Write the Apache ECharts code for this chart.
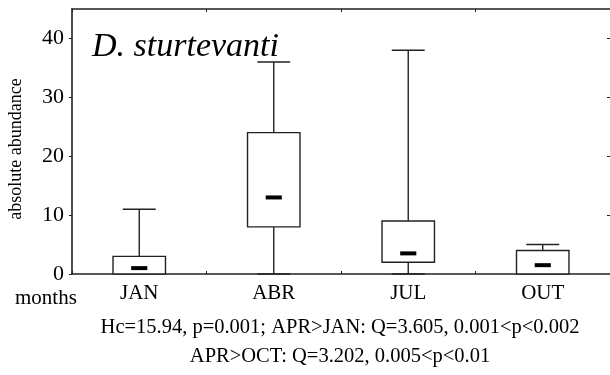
<!DOCTYPE html>
<html>
<head>
<meta charset="utf-8">
<script src="https://cdn.jsdelivr.net/npm/echarts@6/dist/echarts.min.js"></script>
<style>
  html, body { margin: 0; padding: 0; background: #fff; }
  #chart { width: 610px; height: 375px; }
</style>
</head>
<body>
<div id="chart"></div>
<script>
// Monthly abundance of D. sturtevanti: five-number summaries per month
const months = ['JAN', 'ABR', 'JUL', 'OUT'];
const minVals = [0, 0, 0, 0];
const q1Vals = [0, 8, 2, 0];
const medianVals = [1, 13, 3.5, 1.5];
const q3Vals = [3, 24, 9, 4];
const maxVals = [11, 36, 38, 5];
const yTicks = [0, 10, 20, 30, 40];

const SERIF = '"Liberation Serif", "DejaVu Serif", serif';
const INK = '#222';

const boxData = months.map((m, i) => [i, minVals[i], q1Vals[i], medianVals[i], q3Vals[i], maxVals[i]]);

function renderBox(params, api) {
  const idx = api.value(0);
  const band = api.size([1, 0])[0];
  const boxW = band * 0.39;
  const capW = band * 0.245;
  const medW = band * 0.12;
  const pMin = api.coord([idx, api.value(1)]);
  const pQ1 = api.coord([idx, api.value(2)]);
  const pMed = api.coord([idx, api.value(3)]);
  const pQ3 = api.coord([idx, api.value(4)]);
  const pMax = api.coord([idx, api.value(5)]);
  const cx = pQ1[0];
  const lineStyle = { stroke: INK, lineWidth: 1.4, fill: null };
  const children = [];
  // upper whisker and cap
  if (pMax[1] < pQ3[1]) {
    children.push({ type: 'line', shape: { x1: cx, y1: pQ3[1], x2: cx, y2: pMax[1] }, style: lineStyle });
    children.push({ type: 'line', shape: { x1: cx - capW / 2, y1: pMax[1], x2: cx + capW / 2, y2: pMax[1] }, style: lineStyle });
  }
  // lower whisker and cap
  if (pMin[1] > pQ1[1]) {
    children.push({ type: 'line', shape: { x1: cx, y1: pQ1[1], x2: cx, y2: pMin[1] }, style: lineStyle });
    children.push({ type: 'line', shape: { x1: cx - capW / 2, y1: pMin[1], x2: cx + capW / 2, y2: pMin[1] }, style: lineStyle });
  }
  // interquartile box
  children.push({
    type: 'rect',
    shape: { x: cx - boxW / 2, y: pQ3[1], width: boxW, height: pQ1[1] - pQ3[1] },
    style: { stroke: INK, lineWidth: 1.4, fill: '#fff' }
  });
  // median marker
  children.push({
    type: 'rect',
    shape: { x: cx - medW / 2, y: pMed[1] - 2, width: medW, height: 4 },
    style: { fill: '#000' }
  });
  return { type: 'group', children };
}

const chart = echarts.init(document.getElementById('chart'), null, { renderer: 'canvas' });
chart.setOption({
  animation: false,
  backgroundColor: '#fff',
  grid: { left: 72, right: 0, top: 9, bottom: 101, containLabel: false },
  xAxis: [
    {
      type: 'category',
      data: months,
      position: 'bottom',
      boundaryGap: true,
      axisLine: { show: true, lineStyle: { color: INK, width: 1.6 } },
      axisTick: { show: true, inside: true, length: 3, alignWithLabel: false, lineStyle: { color: INK } },
      axisLabel: { color: '#000', fontFamily: SERIF, fontSize: 21, margin: 9 },
      splitLine: { show: false }
    },
    {
      type: 'category',
      data: months,
      position: 'top',
      boundaryGap: true,
      axisLine: { show: true, onZero: false, lineStyle: { color: INK, width: 1.6 } },
      axisTick: { show: true, inside: true, length: 3, lineStyle: { color: INK } },
      axisLabel: { show: false },
      splitLine: { show: false }
    }
  ],
  yAxis: [
    {
      type: 'value',
      min: 0,
      max: 45,
      interval: 10,
      position: 'left',
      axisLine: { show: true, lineStyle: { color: INK, width: 1.6 } },
      axisTick: { show: true, inside: false, length: 3, customValues: yTicks, lineStyle: { color: INK } },
      axisLabel: { color: '#000', fontFamily: SERIF, fontSize: 22, margin: 8, customValues: yTicks },
      splitLine: { show: false }
    },
    {
      type: 'value',
      min: 0,
      max: 45,
      interval: 10,
      position: 'right',
      axisLine: { show: false },
      axisTick: { show: true, inside: true, length: 3, customValues: [10, 20, 30, 40], lineStyle: { color: INK } },
      axisLabel: { show: false },
      splitLine: { show: false }
    }
  ],
  series: [{
    type: 'custom',
    name: 'D. sturtevanti',
    xAxisIndex: 0,
    yAxisIndex: 0,
    renderItem: renderBox,
    encode: { x: 0, y: [1, 2, 3, 4, 5] },
    data: boxData,
    clip: false
  }],
  graphic: [
    {
      type: 'text', left: 92, top: 30,
      style: { text: 'D. sturtevanti', font: 'italic 34px ' + SERIF, fill: '#000' }
    },
    {
      type: 'text', x: 16, y: 149, rotation: Math.PI / 2,
      style: { text: 'absolute abundance', font: '18px ' + SERIF, fill: '#000', align: 'center', verticalAlign: 'middle' }
    },
    {
      type: 'text', x: 15, y: 298,
      style: { text: 'months', font: '21px ' + SERIF, fill: '#000', verticalAlign: 'middle' }
    },
    {
      type: 'text', x: 340, y: 328,
      style: { text: 'Hc=15.94, p=0.001; APR>JAN: Q=3.605, 0.001<p<0.002', font: '20.5px ' + SERIF, fill: '#000', align: 'center', verticalAlign: 'middle' }
    },
    {
      type: 'text', x: 340, y: 357,
      style: { text: 'APR>OCT: Q=3.202, 0.005<p<0.01', font: '20.5px ' + SERIF, fill: '#000', align: 'center', verticalAlign: 'middle' }
    }
  ]
});
</script>
</body>
</html>
